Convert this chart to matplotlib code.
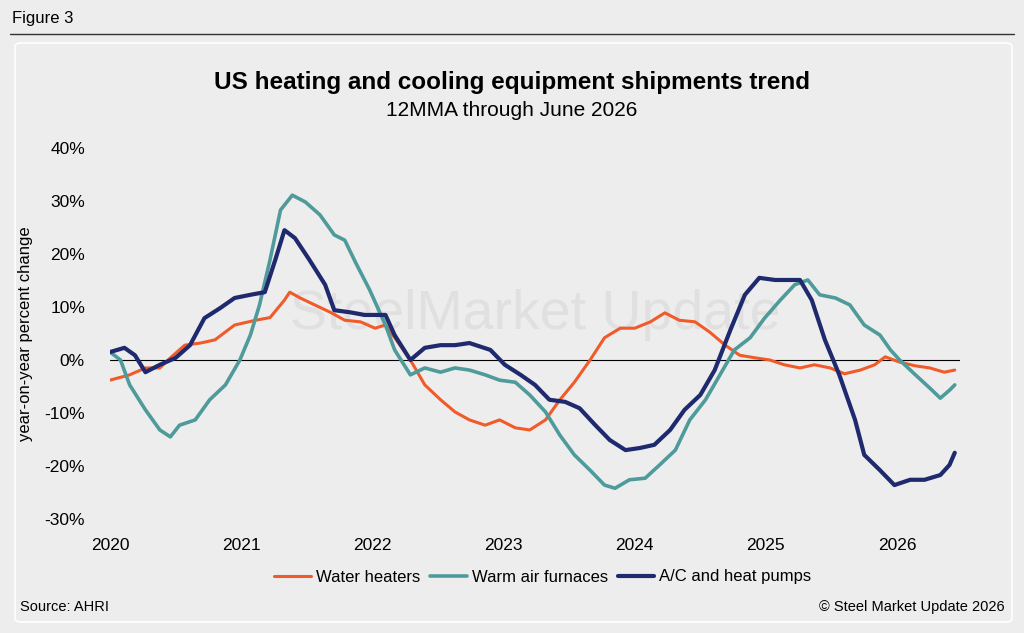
import numpy as np
import matplotlib.pyplot as plt
from matplotlib.patches import FancyBboxPatch

plt.rcParams['font.family'] = ['Liberation Sans', 'DejaVu Sans']
plt.rcParams['lines.solid_joinstyle'] = 'round'
plt.rcParams['lines.solid_capstyle'] = 'round'

wh_x = [2020.00, 2020.15, 2020.27, 2020.38, 2020.46, 2020.57, 2020.69, 2020.80, 2020.95,
        2021.11, 2021.22, 2021.33, 2021.37, 2021.45, 2021.56, 2021.68, 2021.79, 2021.91,
        2022.02, 2022.10, 2022.17, 2022.29, 2022.40, 2022.52, 2022.63, 2022.74, 2022.86,
        2022.97, 2023.09, 2023.20, 2023.32, 2023.43, 2023.54, 2023.66, 2023.77, 2023.89,
        2024.00, 2024.12, 2024.23, 2024.34, 2024.46, 2024.57, 2024.69, 2024.80, 2024.92,
        2025.03, 2025.14, 2025.26, 2025.37, 2025.49, 2025.60, 2025.72, 2025.83, 2025.91,
        2026.02, 2026.14, 2026.25, 2026.36, 2026.44]
wh_y = [-3.8, -2.8, -1.5, -1.5, 0.4, 2.8, 3.2, 3.8, 6.6,
        7.5, 8.0, 11.3, 12.8, 11.7, 10.4, 9.0, 7.5, 7.2,
        6.0, 6.6, 4.2, 0.0, -4.7, -7.5, -9.8, -11.3, -12.3,
        -11.3, -12.8, -13.2, -11.3, -7.5, -4.2, 0.0, 4.2, 6.0,
        6.0, 7.2, 8.9, 7.5, 7.2, 5.3, 2.8, 0.9, 0.4,
        0.0, -0.9, -1.5, -0.9, -1.5, -2.6, -1.9, -0.9, 0.6,
        -0.4, -1.1, -1.5, -2.3, -1.9]

wf_x = [2020.00, 2020.08, 2020.15, 2020.27, 2020.38, 2020.46, 2020.53, 2020.65, 2020.76,
        2020.88, 2020.99, 2021.07, 2021.14, 2021.22, 2021.30, 2021.39, 2021.49, 2021.60,
        2021.71, 2021.79, 2021.87, 2021.98, 2022.10, 2022.17, 2022.29, 2022.40, 2022.52,
        2022.63, 2022.74, 2022.86, 2022.97, 2023.09, 2023.20, 2023.32, 2023.43, 2023.54,
        2023.66, 2023.77, 2023.85, 2023.96, 2024.08, 2024.19, 2024.31, 2024.42, 2024.54,
        2024.65, 2024.76, 2024.88, 2024.99, 2025.11, 2025.22, 2025.32, 2025.41, 2025.53,
        2025.64, 2025.75, 2025.87, 2025.95, 2026.02, 2026.14, 2026.25, 2026.33, 2026.40,
        2026.44]
wf_y = [1.5, 0.0, -4.7, -9.4, -13.2, -14.5, -12.3, -11.3, -7.5,
        -4.7, 0.0, 4.7, 10.4, 18.9, 28.3, 31.1, 29.8, 27.4,
        23.6, 22.6, 18.5, 13.2, 6.6, 1.9, -2.8, -1.5, -2.3,
        -1.5, -1.9, -2.8, -3.8, -4.2, -6.6, -9.8, -14.2, -17.9,
        -20.8, -23.6, -24.2, -22.6, -22.3, -19.8, -17.0, -11.3, -7.5,
        -2.8, 1.9, 4.2, 7.9, 11.3, 14.2, 15.1, 12.3, 11.7,
        10.4, 6.6, 4.7, 1.9, 0.0, -2.8, -5.3, -7.2, -5.7,
        -4.7]

ac_x = [2020.00, 2020.11, 2020.19, 2020.27, 2020.38, 2020.50, 2020.61, 2020.72, 2020.84,
        2020.95, 2021.07, 2021.18, 2021.26, 2021.33, 2021.41, 2021.52, 2021.64, 2021.71,
        2021.83, 2021.94, 2022.10, 2022.17, 2022.29, 2022.40, 2022.52, 2022.63, 2022.74,
        2022.90, 2023.01, 2023.13, 2023.24, 2023.35, 2023.47, 2023.58, 2023.70, 2023.81,
        2023.93, 2024.04, 2024.15, 2024.27, 2024.38, 2024.50, 2024.61, 2024.73, 2024.84,
        2024.95, 2025.07, 2025.18, 2025.26, 2025.35, 2025.45, 2025.56, 2025.68, 2025.75,
        2025.87, 2025.98, 2026.10, 2026.21, 2026.33, 2026.40, 2026.44]
ac_y = [1.5, 2.3, 0.9, -2.3, -0.9, 0.4, 2.8, 7.9, 9.8,
        11.7, 12.3, 12.8, 18.9, 24.5, 23.0, 18.9, 14.2, 9.4,
        9.0, 8.5, 8.5, 4.7, 0.0, 2.3, 2.8, 2.8, 3.2,
        1.9, -0.9, -2.8, -4.7, -7.5, -7.9, -9.1, -12.3, -15.1,
        -17.0, -16.6, -16.0, -13.2, -9.4, -6.6, -1.9, 5.7, 12.3,
        15.5, 15.1, 15.1, 15.1, 11.3, 3.8, -2.8, -11.3, -17.9,
        -20.8, -23.6, -22.6, -22.6, -21.7, -19.8, -17.5]

years = [2020, 2021, 2022, 2023, 2024, 2025, 2026]
yticks = [-30, -20, -10, 0, 10, 20, 30, 40]

bg = '#ededed'
fig = plt.figure(figsize=(10.24, 6.33), dpi=100, facecolor=bg)
panel = FancyBboxPatch((15/1024, 11/633), 997/1024, 579/633, boxstyle='round,pad=0,rounding_size=0.006',
                       transform=fig.transFigure, facecolor='none', edgecolor='white', lw=1.2)
fig.add_artist(panel)
fig.add_artist(plt.Line2D([10/1024, 1014/1024], [1-34/633, 1-34/633], color='#333333', lw=1))
fig.text(12/1024, 1-18/633, 'Figure 3', fontsize=12, va='center')
fig.text(0.5, 1-83/633, 'US heating and cooling equipment shipments trend', fontsize=17.5,
         fontweight='bold', ha='center', va='center')
fig.text(0.5, 1-111/633, '12MMA through June 2026', fontsize=15, ha='center', va='center')
fig.text(20/1024, 1-607/633, 'Source: AHRI', fontsize=10.5, va='center')
fig.text(1005/1024, 1-607/633, '\u00a9 Steel Market Update 2026', fontsize=10.5, va='center', ha='right')

ax = fig.add_axes([110/1024, 1-519/633, 850/1024, 371/633])
ax.set_facecolor('none')
ax.text(0.5, 0.55, 'SteelMarket Update', transform=ax.transAxes, fontsize=40, color='#e0e0e0',
        ha='center', va='center', zorder=0)
ax.axhline(0, color='black', lw=0.8, zorder=1)
ax.plot(wh_x, wh_y, color='#f15a29', lw=2.2, label='Water heaters', zorder=2)
ax.plot(wf_x, wf_y, color='#4f9a9a', lw=2.6, label='Warm air furnaces', zorder=3)
ax.plot(ac_x, ac_y, color='#1f2a6e', lw=3, label='A/C and heat pumps', zorder=4)
ax.set_xlim(2020, 2026.48)
ax.set_ylim(-30, 40)
ax.set_xticks(years)
ax.set_xticklabels([str(y) for y in years], fontsize=12.5)
ax.set_yticks(yticks)
ax.set_yticklabels([f'{v}%' for v in yticks], fontsize=12.5)
ax.tick_params(length=0, axis='y', pad=18)
ax.tick_params(length=0, axis='x', pad=14)
for s in ax.spines.values():
    s.set_visible(False)
ax.set_ylabel('year-on-year percent change', fontsize=12, labelpad=8)
ax.legend(loc='center', bbox_to_anchor=(0.53, 1-577/633), bbox_transform=fig.transFigure, ncol=3,
          frameon=False, fontsize=12, handlelength=2.2, columnspacing=0.6, handletextpad=0.3)
fig.savefig('out.png', dpi=100, facecolor=bg)
